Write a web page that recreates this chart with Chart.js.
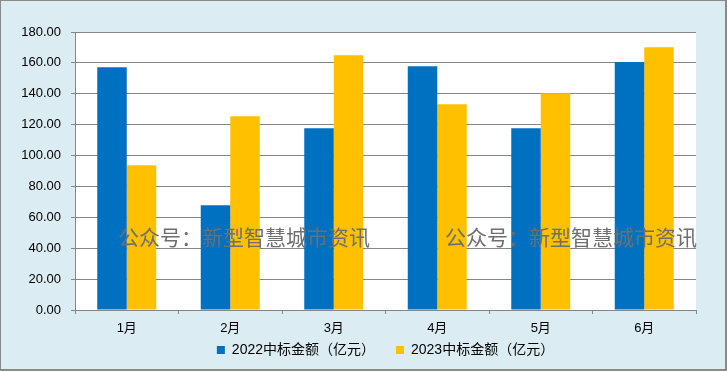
<!DOCTYPE html>
<html lang="zh">
<head>
  <meta charset="UTF-8">
  <title>中标金额</title>
  <script src="https://cdn.jsdelivr.net/npm/chart.js"></script>
  <style>
    body { margin: 0; }
    #wrap { width: 727px; height: 371px; }
  </style>
</head>
<body>
  <div id="wrap"><canvas id="chart" width="727" height="371"></canvas></div>
  <script>
    // données
    const months = ['1月', '2月', '3月', '4月', '5月', '6月'];
    const amount2022 = [157.2, 67.8, 117.6, 157.9, 117.6, 160.5];
    const amount2023 = [93.8, 125.4, 165.0, 133.2, 140.3, 170.2];
    const yTicks = [0, 20, 40, 60, 80, 100, 120, 140, 160, 180];

    const fontFam = '"Liberation Sans", Arial, "Noto Sans CJK SC", sans-serif';

    // fond, bordure et zone de tracé blanche
    const frame = {
      id: 'frame',
      beforeDraw(chart) {
        const c = chart.ctx, a = chart.chartArea;
        c.save();
        c.fillStyle = '#dbedf3';
        c.fillRect(0, 0, chart.width, chart.height);
        c.fillStyle = '#ffffff';
        c.fillRect(a.left, a.top, a.right - a.left, a.bottom - a.top);
        c.strokeStyle = '#8a8a8a';
        c.lineWidth = 1;
        c.strokeRect(0.5, 0.5, chart.width - 1.5, chart.height - 1.5);
        c.fillStyle = '#8a8a8a';
        c.fillRect(chart.width - 2, 0, 2, chart.height);
        c.fillRect(0, chart.height - 2, chart.width, 2);
        c.restore();
      }
    };

    // filigrane
    const watermark = {
      id: 'watermark',
      afterDatasetsDraw(chart) {
        const c = chart.ctx;
        c.save();
        c.font = '21px "Noto Sans CJK SC", sans-serif';
        c.fillStyle = '#6f6f6f';
        c.textBaseline = 'middle';
        c.fillText('公众号：新型智慧城市资讯', 118, 237);
        c.fillText('公众号：新型智慧城市资讯', 445, 237);
        c.restore();
      }
    };

    new Chart(document.getElementById('chart'), {
      type: 'bar',
      data: {
        labels: months,
        datasets: [
          {
            label: '2022中标金额（亿元）',
            data: amount2022,
            backgroundColor: '#0070c0'
          },
          {
            label: '2023中标金额（亿元）',
            data: amount2023,
            backgroundColor: '#ffc000'
          }
        ]
      },
      options: {
        responsive: false,
        animation: false,
        layout: { padding: { top: 32, right: 31, left: 0, bottom: 4 } },
        datasets: {
          bar: { categoryPercentage: 0.57, barPercentage: 1.0 }
        },
        scales: {
          x: {
            grid: {
              drawOnChartArea: false,
              drawTicks: true,
              tickLength: 4,
              color: '#868686',
              lineWidth: 1
            },
            border: { color: '#868686', width: 1 },
            ticks: {
              color: '#000',
              padding: 7,
              font: { family: fontFam, size: 13 }
            },
            afterFit(scale) { scale.height = 26; }
          },
          y: {
            min: 0,
            max: 180,
            afterBuildTicks(scale) {
              scale.ticks = yTicks.map(v => ({ value: v }));
            },
            grid: {
              color: '#868686',
              lineWidth: 1,
              tickLength: 4
            },
            border: { color: '#868686', width: 1 },
            ticks: {
              color: '#000',
              padding: 10,
              font: { family: fontFam, size: 13 },
              callback: v => Number(v).toFixed(2)
            },
            afterFit(scale) { scale.width = 75; }
          }
        },
        plugins: {
          legend: {
            position: 'bottom',
            fullSize: false, // légende centrée sous la zone de tracé
            labels: {
              boxWidth: 8,
              boxHeight: 8,
              padding: 7,
              color: '#000',
              font: { family: fontFam, size: 14 },
              generateLabels(chart) {
                const items = Chart.defaults.plugins.legend.labels.generateLabels(chart);
                // espace entre les deux entrées
                items[0].text = items[0].text + '\u2003';
                return items;
              }
            }
          },
          tooltip: { enabled: false }
        }
      },
      plugins: [frame, watermark]
    });
  </script>
</body>
</html>
